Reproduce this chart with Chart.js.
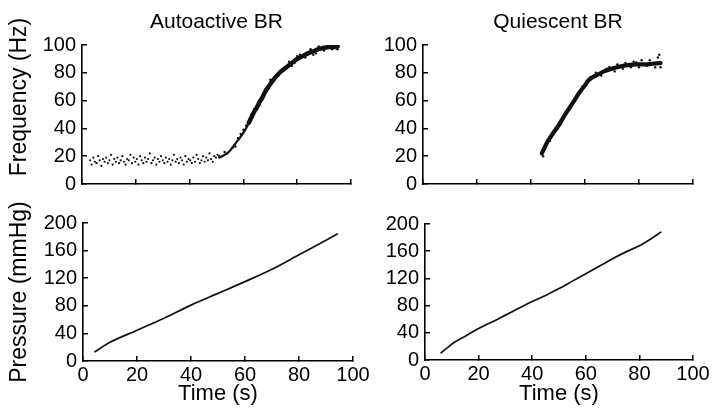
<!DOCTYPE html>
<html>
<head>
<meta charset="utf-8">
<script src="https://cdn.jsdelivr.net/npm/chart.js@4.4.1/dist/chart.umd.min.js"></script>
<style>
  html, body { margin: 0; padding: 0; background: #fff; overflow: hidden; }
  body { width: 714px; height: 410px; position: relative; }
  canvas { position: absolute; }
</style>
</head>
<body>
<canvas id="tl" width="360" height="194" style="left:0px;top:0px"></canvas>
<canvas id="tr" width="344" height="194" style="left:370px;top:0px"></canvas>
<canvas id="bl" width="380" height="210" style="left:0px;top:200px"></canvas>
<canvas id="br" width="344" height="210" style="left:370px;top:200px"></canvas>
<script>
// ---- data (time s, value) ----
const timeTicks = [0, 20, 40, 60, 80, 100];
const freqTicks = [0, 20, 40, 60, 80, 100];
const pressTicks = [0, 40, 80, 120, 160, 200];

// Autoactive BR: scattered baseline discharge (Hz)
const autoBase = [[3,17],[3.6,14],[4.2,19],[4.8,16],[5.4,15],[6,20],[6.6,17],[7.2,13],[7.8,18],[8.4,16],
  [9,19],[9.6,15],[10.2,17],[10.8,21],[11.4,14],[12,18],[12.6,16],[13.2,19],[13.8,15],[14.4,17],
  [15,20],[15.6,16],[16.2,14],[16.8,18],[17.4,17],[18,21],[18.6,15],[19.2,19],[19.8,16],[20.4,18],
  [21,14],[21.6,20],[22.2,17],[22.8,15],[23.4,19],[24,16],[24.6,18],[25.2,22],[25.8,15],[26.4,17],
  [27,19],[27.6,14],[28.2,18],[28.8,16],[29.4,20],[30,17],[30.6,15],[31.2,19],[31.8,16],[32.4,18],
  [33,14],[33.6,17],[34.2,21],[34.8,16],[35.4,18],[36,15],[36.6,19],[37.2,17],[37.8,14],[38.4,20],
  [39,16],[39.6,18],[40.2,17],[40.8,15],[41.4,19],[42,16],[42.6,21],[43.2,18],[43.8,15],[44.4,17],
  [45,20],[45.6,16],[46.2,19],[46.8,17],[47.4,22],[48,18],[48.6,16],[49.2,20],[49.8,19],[50.4,21],[51,20]];
// Autoactive BR: rising discharge (Hz) - thinner early part, dense upper band
const autoRise = [[51,19],[53,21],[55,24],[57,29],[59,34],[61,40],[62,44],[63,48]];
const autoBand = [[62,44],[63,48],[64,52],[65,55],[66,59],[67,62],[68,66],[69,69],[70,72],[72,77],
  [74,81],[76,84],[78,87],[80,90],[82,92],[84,94],[86,95.5],[88,97],[90,98],[92,98.5],[94,98.5],[95,99]];
const autoFuzz = [[53,23],[56,26],[58,33],[60,39],[63,50],[66,57],[68,68],[71,74],[73,78],[75,83],
  [77,88],[79,87],[81,93],[83,91],[85,97],[87,94],[88,99],[90,96],[91,100],[93,97],[94,101],[95,97],
  [92,100],[86,93],[80,92],[78,85],[70,75],[64,54],[54,22],[57,27],[59,36],[61,42]];

// Quiescent BR discharge (Hz)
const quiCurve = [[44,22],[45,26],[46,30],[48,36],[50,41.5],[52,48],[54,54],[56,60],[58,66],[60,71],
  [61,74],[63,77],[65,79],[67,81],[70,83],[73,84.5],[76,85.5],[79,86],[82,86],[85,86.5],[88,87]];
const quiFuzz = [[44.5,20],[45.5,28],[47,31],[49,40],[51,43],[53,52],[57,64],[59,70],[62,77],[64,80],
  [66,78],[68,83],[71,81],[72,86],[74,83],[75,87],[77,84],[78,88],[80,84],[81,89],[83,85],[84,89],
  [86,84],[87,91],[88,84],[87.5,93],[69,84],[79,87.5]];

// Pressure ramps (mmHg)
const autoPressure = [[4.4,13.5],[10,27],[20,44.5],[30,62],[40,81],[50,98],[60,115],[70,133],[80,154],[90,175],[94.2,184]];
const quiPressure = [[6,10.7],[8,17],[11,26],[15,35],[20,46.5],[25,56],[30,66],[35,76],[40,86],[45,95],
  [50,105],[55,116],[60,127],[65,138],[70,149],[75,159],[80,168],[85,180],[88,188]];

// ---- rendering ----
Chart.defaults.font.family = "'Liberation Sans', Arial, Helvetica, sans-serif";
Chart.defaults.color = '#000';

const toXY = arr => arr.map(p => ({x: p[0], y: p[1]}));
const INK = '#111';

function fixY(w) {
  return s => { s.width = w; s.paddingTop = 0; s.paddingBottom = 0; s.paddingLeft = 0; s.paddingRight = 0; };
}
function fixX(h) {
  return s => { s.height = h; s.paddingTop = 0; s.paddingBottom = 0; s.paddingLeft = 0; s.paddingRight = 0; };
}
function axisCommon() {
  return {
    border: {display: true, color: '#000', width: 1.6},
    grid: {drawOnChartArea: false, drawTicks: true, tickLength: -5, color: '#000', lineWidth: 1.5}
  };
}
function xScale(h, showLabels) {
  const c = axisCommon();
  return Object.assign(c, {
    type: 'linear', position: 'bottom', min: 0, max: 100,
    afterBuildTicks: s => { s.ticks = timeTicks.map(v => ({value: v})); },
    ticks: {display: showLabels, padding: 7, font: {size: 20}, color: '#000'},
    title: showLabels ? {display: true, text: 'Time (s)', font: {size: 22}, color: '#000', padding: {top: 0, bottom: 0}} : {display: false},
    afterFit: fixX(h)
  });
}
function yScale(w, ticksArr, max, titleText) {
  const c = axisCommon();
  return Object.assign(c, {
    type: 'linear', position: 'left', min: 0, max: max,
    afterBuildTicks: s => { s.ticks = ticksArr.map(v => ({value: v})); },
    ticks: {padding: 11, font: {size: 20}, color: '#000'},
    title: titleText ? {display: true, text: titleText, font: {size: 23}, color: '#000', padding: {top: 6, bottom: 0}} : {display: false},
    afterFit: fixY(w)
  });
}
function dots(data, r) {
  return {data: toXY(data), showLine: false, pointRadius: r || 1.1, pointBackgroundColor: INK, pointBorderWidth: 0, borderColor: INK};
}
function curve(data, width) {
  return {data: toXY(data), showLine: true, pointRadius: 0, borderColor: INK, borderWidth: width,
    cubicInterpolationMode: 'monotone', fill: false, borderCapStyle: 'round'};
}
function base(extra) {
  return Object.assign({
    responsive: false, animation: false, devicePixelRatio: 1,
    events: []
  }, extra);
}
const titleFont = {size: 21, weight: 'normal'};
const titlePad = {top: 9.4, bottom: 10.4};

// Top-left: Autoactive BR frequency
new Chart(document.getElementById('tl'), {
  type: 'scatter',
  data: {datasets: [dots(autoBase, 1.1), curve(autoRise, 2.2), curve(autoBand, 4.5), dots(autoFuzz, 1.2)]},
  options: base({
    layout: {padding: {left: 0, right: 9, top: 0, bottom: 0}},
    plugins: {
      legend: {display: false}, tooltip: {enabled: false},
      title: {display: true, fullSize: false, text: 'Autoactive BR', font: titleFont, color: '#000', padding: titlePad},
      subtitle: {display: true, position: 'left', text: 'Frequency (Hz)', font: {size: 23, weight: 'normal'}, color: '#000', padding: {top: 6, bottom: 0}}
    },
    scales: {x: xScale(10, false), y: yScale(48.4, freqTicks, 100, null)}
  })
});

// Top-right: Quiescent BR frequency
new Chart(document.getElementById('tr'), {
  type: 'scatter',
  data: {datasets: [curve(quiCurve, 4.2), dots(quiFuzz, 1.2)]},
  options: base({
    layout: {padding: {left: 0, right: 21, top: 0, bottom: 0}},
    plugins: {
      legend: {display: false}, tooltip: {enabled: false},
      title: {display: true, fullSize: false, text: 'Quiescent BR', font: titleFont, color: '#000', padding: titlePad}
    },
    scales: {x: xScale(10, false), y: yScale(53, freqTicks, 100, null)}
  })
});

// Bottom-left: Autoactive pressure
new Chart(document.getElementById('bl'), {
  type: 'scatter',
  data: {datasets: [curve(autoPressure, 1.7)]},
  options: base({
    layout: {padding: {left: 0, right: 27, top: 23, bottom: 3}},
    plugins: {legend: {display: false}, tooltip: {enabled: false}},
    scales: {x: xScale(46, true), y: yScale(83, pressTicks, 200, 'Pressure (mmHg)')}
  })
});

// Bottom-right: Quiescent pressure
new Chart(document.getElementById('br'), {
  type: 'scatter',
  data: {datasets: [curve(quiPressure, 1.7)]},
  options: base({
    layout: {padding: {left: 0, right: 21, top: 24, bottom: 3}},
    plugins: {legend: {display: false}, tooltip: {enabled: false}},
    scales: {x: xScale(47, true), y: yScale(55, pressTicks, 200, null)}
  })
});
</script>
</body>
</html>
